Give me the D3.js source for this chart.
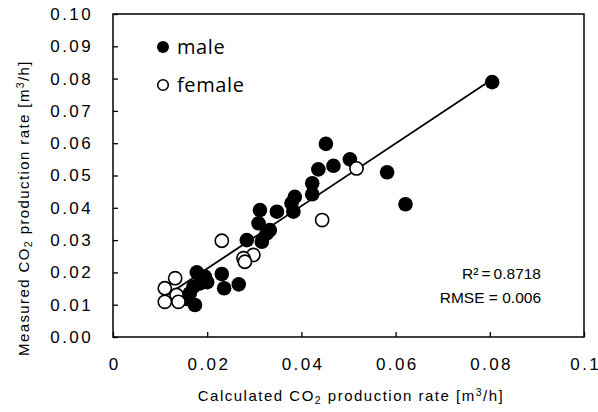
<!DOCTYPE html>
<html><head><meta charset="utf-8">
<script src="https://cdn.jsdelivr.net/npm/d3@7"></script>
<style>body{margin:0;background:#fff}svg{display:block}</style>
</head><body>
<script>
const xTicks = [0, 0.02, 0.04, 0.06, 0.08, 0.1];
const xTickLabels = ["0", "0.02", "0.04", "0.06", "0.08", "0.1"];
const yTicks = [0, 0.01, 0.02, 0.03, 0.04, 0.05, 0.06, 0.07, 0.08, 0.09, 0.10];
const yTickLabels = ["0.00","0.01","0.02","0.03","0.04","0.05","0.06","0.07","0.08","0.09","0.10"];
const maleX = [0.0805,0.0452,0.0503,0.0468,0.0436,0.0423,0.0423,0.0582,0.0621,0.0386,0.0379,0.0383,0.0348,0.0312,0.0309,0.0333,0.0316,0.0284,0.0231,0.0236,0.0267,0.0178,0.0195,0.0185,0.0171,0.0174,0.0163,0.0156,0.0200,0.0326];
const maleY = [0.0789,0.0598,0.0550,0.0530,0.0519,0.0476,0.0442,0.0510,0.0411,0.0434,0.0414,0.0388,0.0388,0.0393,0.0352,0.0331,0.0295,0.0300,0.0195,0.0151,0.0163,0.0200,0.0187,0.0166,0.0156,0.0099,0.0135,0.0118,0.0170,0.0320];
const femaleX = [0.0517,0.0444,0.0231,0.0298,0.0277,0.0280,0.0132,0.0110,0.0135,0.0110,0.0139];
const femaleY = [0.0522,0.0362,0.0298,0.0254,0.0244,0.0233,0.0182,0.0151,0.0130,0.0109,0.0109];
const trendX = [0.0100, 0.0790];
const trendY = [0.0115, 0.0783];
const statLines = ["R\u00B2\u2009=\u20090.8718", "RMSE = 0.006"];
const legendLabels = ["male", "female"];

const W = 598, H = 412;
const m = {left:113, right:584, top:14, bottom:337};
const svg = d3.select("body").append("svg").attr("width", W).attr("height", H);
const x = d3.scaleLinear().domain([0, 0.1]).range([m.left, m.right]);
const y = d3.scaleLinear().domain([0, 0.1]).range([m.bottom, m.top]);
const tf = "'Liberation Sans', Arial, sans-serif";

// axes with inward ticks
const xAxis = d3.axisBottom(x).tickValues(xTicks).tickSize(-5).tickFormat((d,i)=>xTickLabels[i]).tickPadding(21);
const yAxis = d3.axisLeft(y).tickValues(yTicks).tickSize(-5).tickFormat((d,i)=>yTickLabels[i]).tickPadding(20);
const gx = svg.append("g").attr("transform", `translate(0,${m.bottom})`).call(xAxis);
const gy = svg.append("g").attr("transform", `translate(${m.left},0)`).call(yAxis);
[gx, gy].forEach(g => {
  g.select(".domain").remove();
  g.selectAll(".tick line").attr("stroke", "#000").attr("stroke-width", 1.3);
  g.selectAll(".tick text").attr("fill", "#000").style("font-family", tf).style("font-size", "17px").style("letter-spacing", "2.4px");
});
gx.selectAll(".tick text").attr("dy", "0.71em").attr("dx", 1.2);

svg.append("rect").attr("x", m.left).attr("y", m.top).attr("width", m.right - m.left).attr("height", m.bottom - m.top)
  .attr("fill", "none").attr("stroke", "#000").attr("stroke-width", 1.5);

// trend line
svg.append("line").attr("x1", x(trendX[0])).attr("y1", y(trendY[0])).attr("x2", x(trendX[1])).attr("y2", y(trendY[1]))
  .attr("stroke", "#000").attr("stroke-width", 1.8);

// points
const male = maleX.map((v,i)=>({x:v, y:maleY[i]}));
const female = femaleX.map((v,i)=>({x:v, y:femaleY[i]}));
svg.append("g").selectAll("circle").data(male).join("circle")
  .attr("cx", d=>x(d.x)).attr("cy", d=>y(d.y)).attr("r", 7.3).attr("fill", "#000");
svg.append("g").selectAll("circle").data(female).join("circle")
  .attr("cx", d=>x(d.x)).attr("cy", d=>y(d.y)).attr("r", 6.6).attr("fill", "#fff").attr("stroke", "#000").attr("stroke-width", 1.6);

// legend
const lf = "'Open Sans', Lato, sans-serif";
svg.append("circle").attr("cx", 163).attr("cy", 47).attr("r", 6).attr("fill", "#000");
svg.append("circle").attr("cx", 163).attr("cy", 85).attr("r", 5.3).attr("fill", "#fff").attr("stroke", "#000").attr("stroke-width", 1.6);
svg.append("text").attr("x", 177).attr("y", 54).text(legendLabels[0]).style("font-family", lf).style("font-size", "20px").style("letter-spacing", "0.6px").attr("fill", "#000");
svg.append("text").attr("x", 177).attr("y", 92).text(legendLabels[1]).style("font-family", lf).style("font-size", "20px").style("letter-spacing", "0.6px").attr("fill", "#000");

// stats
statLines.forEach((t,i)=>{
  svg.append("text").attr("x", 541).attr("y", 279 + i*24).attr("text-anchor", "end").text(t)
    .style("font-family", tf).style("font-size", "15.5px").attr("fill", "#000");
});

// axis titles
function title(sel){
  sel.style("font-family", tf).style("font-size", "15px").style("letter-spacing", "1.5px").attr("fill", "#000");
  sel.append("tspan").text("Calculated CO");
}
const xt = svg.append("text").attr("x", 351).attr("y", 401).attr("text-anchor", "middle")
  .style("font-family", tf).style("font-size", "15px").style("letter-spacing", "1.5px").attr("fill", "#000");
xt.append("tspan").text("Calculated CO");
xt.append("tspan").text("2").attr("font-size", "10.5px").attr("dy", 3);
xt.append("tspan").text(" production rate [m").attr("dy", -3);
xt.append("tspan").text("3").attr("font-size", "10.5px").attr("dy", -5);
xt.append("tspan").text("/h]").attr("dy", 5);

const yt = svg.append("text").attr("transform", "translate(29,208) rotate(-90)").attr("text-anchor", "middle")
  .style("font-family", tf).style("font-size", "15px").style("letter-spacing", "1.4px").attr("fill", "#000");
yt.append("tspan").text("Measured CO");
yt.append("tspan").text("2").attr("font-size", "10.5px").attr("dy", 3);
yt.append("tspan").text(" production rate [m").attr("dy", -3);
yt.append("tspan").text("3").attr("font-size", "10.5px").attr("dy", -5);
yt.append("tspan").text("/h]").attr("dy", 5);
</script>
</body></html>
